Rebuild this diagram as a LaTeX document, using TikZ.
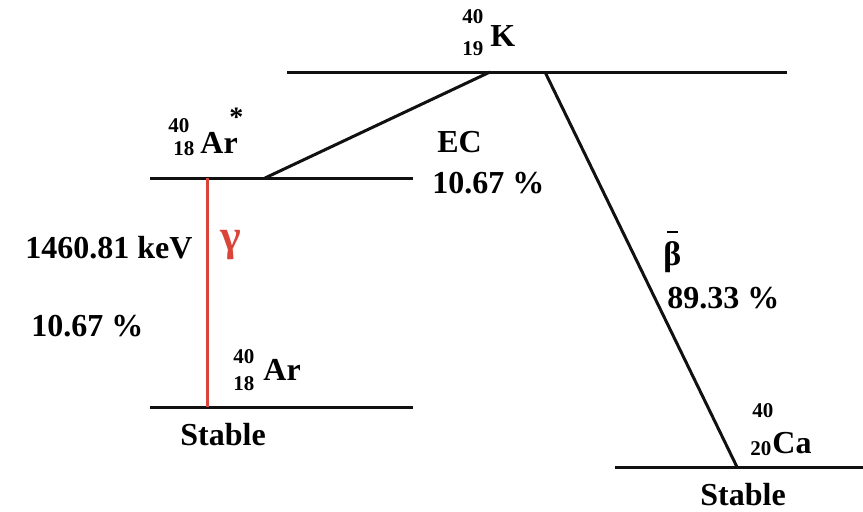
\documentclass[tikz,border=0pt]{standalone}
\usepackage{fontspec}
\setmainfont{Liberation Serif}
\usetikzlibrary{positioning}
\definecolor{levelblack}{HTML}{111111}
\definecolor{gammared}{HTML}{D9453A}

\newcommand\barbeta{\rlap{\hspace{0.12em}\raisebox{0.95em}{\rule{0.3em}{1pt}}}β}

\tikzset{
  level/.style={levelblack, line width=1.5pt},
  lbl/.style={inner sep=0pt, anchor=base west, font=\fontsize{16}{18}\selectfont\bfseries},
  iso/.style={inner sep=0pt, anchor=base west, font=\fontsize{10.5}{12}\selectfont\bfseries},
}

\begin{document}
\begin{tikzpicture}[x=0.5pt, y=-0.5pt]
  \useasboundingbox (0,0) rectangle (863,511);

  % energy levels
  \draw[level] (287,72) coordinate (Kl) -- (787,72) coordinate (Kr);
  \draw[level] (150,178) coordinate (Arxl) -- (413,178) coordinate (Arxr);
  \draw[level] (150,407) coordinate (Arl) -- (413,407) coordinate (Arr);
  \draw[level] (615,467) coordinate (Cal) -- (863,467) coordinate (Car);

  % transitions
  \coordinate (ECtop) at (490,72);
  \coordinate (ECbot) at (265,178);
  \coordinate (Btop) at (545,72);
  \coordinate (Bbot) at (737,467);
  \coordinate (Gtop) at (207,178);
  \coordinate (Gbot) at (207,407);
  \draw[level] (ECtop) -- (ECbot);
  \draw[level] (Btop) -- (Bbot);
  \draw[gammared, line width=1.5pt] (Gtop) -- (Gbot);

  % nuclides
  \node[lbl] (K) at (490,46) {K};
  \node[iso] (Kmass) at (462,23) {40};
  \node[iso] (Kz) at (462,55) {19};

  \node[lbl] (Arx) at (200,153) {Ar};
  \node[iso] (Arxmass) at (168,132) {40};
  \node[iso] (Arxz) at (173,155) {18};
  \node[lbl, font=\fontsize{14}{16}\selectfont\bfseries] (Arxstar) at (229,126) {*};

  \node[lbl] (Ar) at (263,380) {Ar};
  \node[iso] (Armass) at (233,363) {40};
  \node[iso] (Arz) at (233,390) {18};
  \node[lbl] (Arstable) at (180,445) {Stable};

  \node[lbl] (Ca) at (772,453) {Ca};
  \node[iso] (Camass) at (752,417) {40};
  \node[iso] (Caz) at (750,455) {20};
  \node[lbl] (Castable) at (700,505) {Stable};

  % branch labels
  \node[lbl] (EC) at (437,152) {EC};
  \node[lbl] (ECpct) at (432,193) {10.67 \%};
  \node[lbl] (Genergy) at (25,258) {1460.81 keV};
  \node[lbl, text=gammared, font=\fontsize{22}{24}\selectfont\bfseries] (G) at (220,250) {γ};
  \node[lbl] (Gpct) at (31,336) {10.67 \%};
  \node[lbl, font=\fontsize{17}{19}\selectfont\bfseries] (B) at (663,265) {\barbeta};
  \node[lbl] (Bpct) at (667,308) {89.33 \%};
\end{tikzpicture}
\end{document}
